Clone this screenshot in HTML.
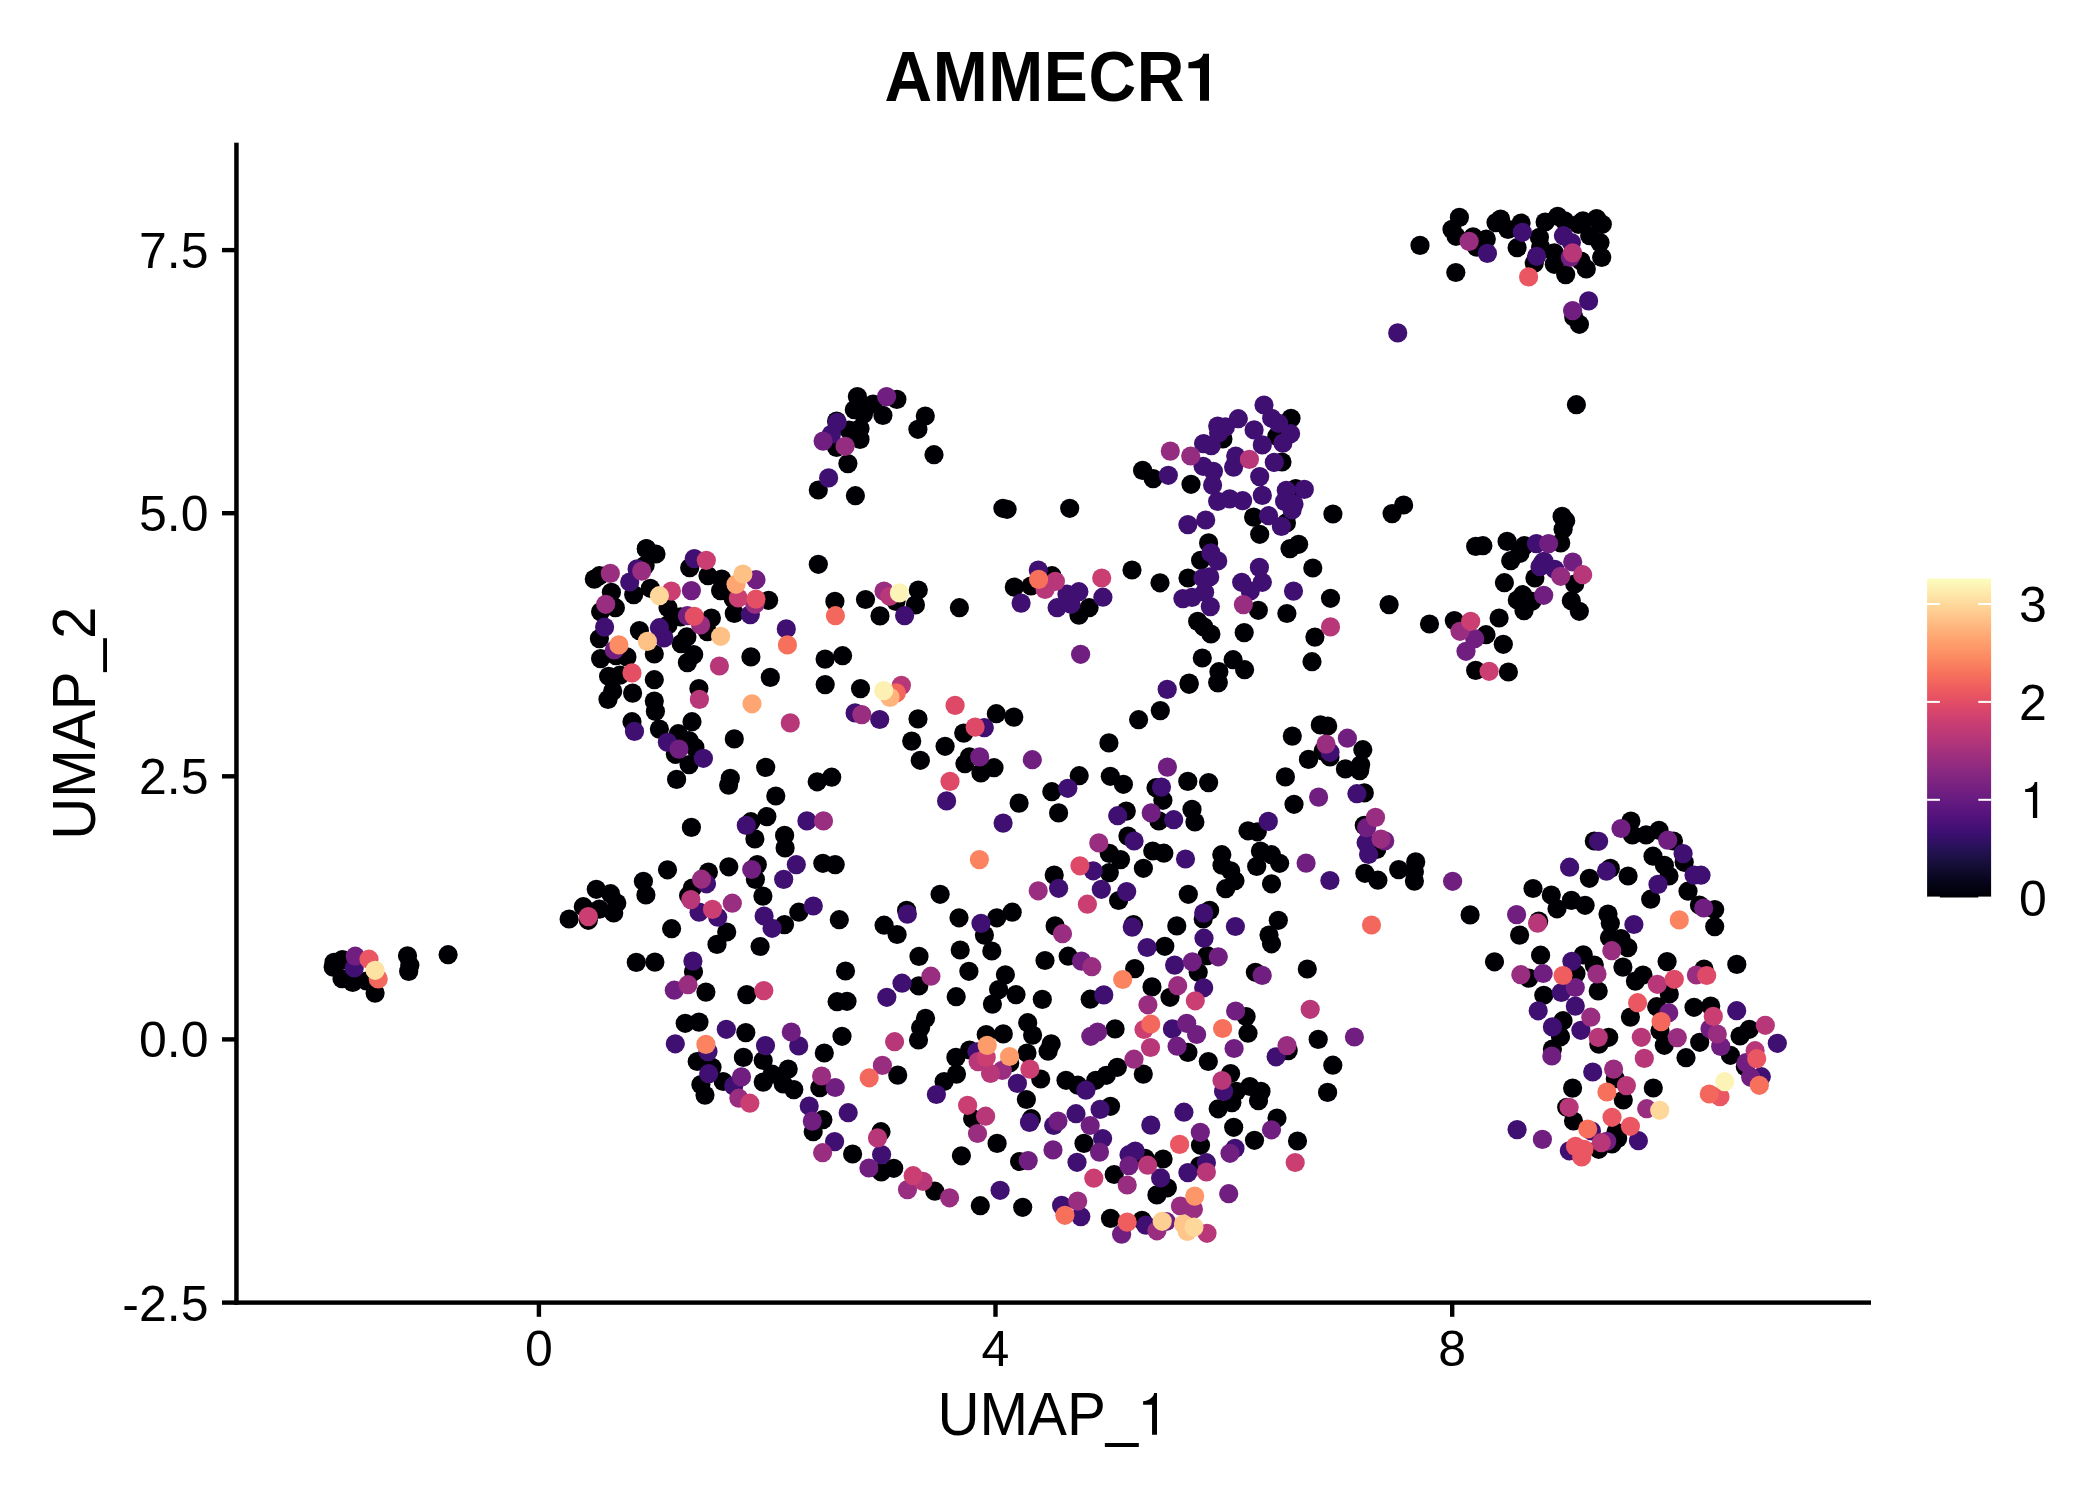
<!DOCTYPE html><html><head><meta charset="utf-8"><style>html,body{margin:0;padding:0;background:#fff;overflow:hidden}svg{display:block}</style></head><body><svg width="2100" height="1500" viewBox="0 0 2100 1500">
<rect width="2100" height="1500" fill="#ffffff"/>
<defs><linearGradient id="g" x1="0" y1="1" x2="0" y2="0"><stop offset="0.000" stop-color="#000004"/><stop offset="0.050" stop-color="#06051a"/><stop offset="0.100" stop-color="#140e36"/><stop offset="0.150" stop-color="#251255"/><stop offset="0.200" stop-color="#3b0f70"/><stop offset="0.250" stop-color="#51127c"/><stop offset="0.300" stop-color="#641a80"/><stop offset="0.350" stop-color="#782281"/><stop offset="0.400" stop-color="#8c2981"/><stop offset="0.450" stop-color="#a1307e"/><stop offset="0.500" stop-color="#b73779"/><stop offset="0.550" stop-color="#ca3e72"/><stop offset="0.600" stop-color="#de4968"/><stop offset="0.650" stop-color="#ed5a5f"/><stop offset="0.700" stop-color="#f7705c"/><stop offset="0.750" stop-color="#fc8961"/><stop offset="0.800" stop-color="#fe9f6d"/><stop offset="0.850" stop-color="#feb77e"/><stop offset="0.900" stop-color="#fecf92"/><stop offset="0.950" stop-color="#fde7a9"/><stop offset="1.000" stop-color="#fcfdbf"/></linearGradient></defs>
<g><circle cx="1420.0" cy="245.4" r="9.6" fill="#000004"/><circle cx="1459.4" cy="217.4" r="9.6" fill="#000004"/><circle cx="1452.0" cy="229.4" r="9.6" fill="#000004"/><circle cx="1456.0" cy="236.3" r="9.6" fill="#000004"/><circle cx="1473.1" cy="236.9" r="9.6" fill="#000004"/><circle cx="1486.3" cy="239.1" r="9.6" fill="#000004"/><circle cx="1476.6" cy="247.1" r="9.6" fill="#000004"/><circle cx="1496.0" cy="222.6" r="9.6" fill="#000004"/><circle cx="1500.6" cy="219.1" r="9.6" fill="#000004"/><circle cx="1508.0" cy="229.4" r="9.6" fill="#000004"/><circle cx="1521.1" cy="223.1" r="9.6" fill="#000004"/><circle cx="1517.1" cy="247.7" r="9.6" fill="#000004"/><circle cx="1539.4" cy="237.4" r="9.6" fill="#000004"/><circle cx="1540.6" cy="247.1" r="9.6" fill="#000004"/><circle cx="1545.1" cy="222.0" r="9.6" fill="#000004"/><circle cx="1534.3" cy="263.1" r="9.6" fill="#000004"/><circle cx="1557.7" cy="216.3" r="9.6" fill="#000004"/><circle cx="1564.6" cy="220.9" r="9.6" fill="#000004"/><circle cx="1554.3" cy="252.9" r="9.6" fill="#000004"/><circle cx="1554.3" cy="264.3" r="9.6" fill="#000004"/><circle cx="1565.7" cy="274.6" r="9.6" fill="#000004"/><circle cx="1586.3" cy="268.9" r="9.6" fill="#000004"/><circle cx="1582.9" cy="220.9" r="9.6" fill="#000004"/><circle cx="1596.6" cy="218.6" r="9.6" fill="#000004"/><circle cx="1602.3" cy="224.3" r="9.6" fill="#000004"/><circle cx="1589.7" cy="235.7" r="9.6" fill="#000004"/><circle cx="1600.0" cy="242.6" r="9.6" fill="#000004"/><circle cx="1601.7" cy="257.4" r="9.6" fill="#000004"/><circle cx="1578.3" cy="224.3" r="9.6" fill="#000004"/><circle cx="1573.7" cy="316.9" r="9.6" fill="#000004"/><circle cx="1579.4" cy="324.3" r="9.6" fill="#000004"/><circle cx="1455.8" cy="272.5" r="9.6" fill="#000004"/><circle cx="857.4" cy="396.6" r="9.6" fill="#000004"/><circle cx="873.1" cy="404.0" r="9.6" fill="#000004"/><circle cx="896.9" cy="399.4" r="9.6" fill="#000004"/><circle cx="854.3" cy="409.7" r="9.6" fill="#000004"/><circle cx="863.4" cy="414.3" r="9.6" fill="#000004"/><circle cx="882.9" cy="415.4" r="9.6" fill="#000004"/><circle cx="836.6" cy="421.1" r="9.6" fill="#000004"/><circle cx="860.0" cy="428.6" r="9.6" fill="#000004"/><circle cx="860.0" cy="439.4" r="9.6" fill="#000004"/><circle cx="836.6" cy="447.4" r="9.6" fill="#000004"/><circle cx="847.9" cy="463.6" r="9.6" fill="#000004"/><circle cx="818.3" cy="490.0" r="9.6" fill="#000004"/><circle cx="855.4" cy="495.7" r="9.6" fill="#000004"/><circle cx="646.4" cy="548.6" r="9.6" fill="#000004"/><circle cx="925.3" cy="416.0" r="9.6" fill="#000004"/><circle cx="917.9" cy="429.3" r="9.6" fill="#000004"/><circle cx="934.0" cy="454.7" r="9.6" fill="#000004"/><circle cx="1002.9" cy="508.3" r="9.6" fill="#000004"/><circle cx="1007.1" cy="509.3" r="9.6" fill="#000004"/><circle cx="1069.7" cy="508.3" r="9.6" fill="#000004"/><circle cx="1142.6" cy="470.4" r="9.6" fill="#000004"/><circle cx="1153.1" cy="478.6" r="9.6" fill="#000004"/><circle cx="1191.0" cy="484.3" r="9.6" fill="#000004"/><circle cx="1222.9" cy="438.9" r="9.6" fill="#000004"/><circle cx="1295.7" cy="488.6" r="9.6" fill="#000004"/><circle cx="1282.0" cy="462.0" r="9.6" fill="#000004"/><circle cx="1291.0" cy="418.3" r="9.6" fill="#000004"/><circle cx="1276.9" cy="436.3" r="9.6" fill="#000004"/><circle cx="1253.6" cy="517.1" r="9.6" fill="#000004"/><circle cx="1286.4" cy="522.9" r="9.6" fill="#000004"/><circle cx="1259.7" cy="534.3" r="9.6" fill="#000004"/><circle cx="1298.6" cy="544.3" r="9.6" fill="#000004"/><circle cx="1290.0" cy="548.6" r="9.6" fill="#000004"/><circle cx="1208.6" cy="542.9" r="9.6" fill="#000004"/><circle cx="1332.9" cy="514.0" r="9.6" fill="#000004"/><circle cx="1392.1" cy="513.6" r="9.6" fill="#000004"/><circle cx="1403.6" cy="505.0" r="9.6" fill="#000004"/><circle cx="1475.7" cy="546.4" r="9.6" fill="#000004"/><circle cx="1482.9" cy="545.7" r="9.6" fill="#000004"/><circle cx="1507.1" cy="541.4" r="9.6" fill="#000004"/><circle cx="1576.4" cy="404.7" r="9.6" fill="#000004"/><circle cx="1562.1" cy="516.4" r="9.6" fill="#000004"/><circle cx="1565.7" cy="520.7" r="9.6" fill="#000004"/><circle cx="1563.1" cy="529.3" r="9.6" fill="#000004"/><circle cx="1560.7" cy="542.9" r="9.6" fill="#000004"/><circle cx="1524.3" cy="545.7" r="9.6" fill="#000004"/><circle cx="646.3" cy="548.9" r="9.6" fill="#000004"/><circle cx="656.0" cy="554.0" r="9.6" fill="#000004"/><circle cx="645.1" cy="565.4" r="9.6" fill="#000004"/><circle cx="633.7" cy="594.6" r="9.6" fill="#000004"/><circle cx="650.3" cy="588.3" r="9.6" fill="#000004"/><circle cx="594.3" cy="579.1" r="9.6" fill="#000004"/><circle cx="599.4" cy="575.7" r="9.6" fill="#000004"/><circle cx="611.4" cy="592.3" r="9.6" fill="#000004"/><circle cx="615.4" cy="607.7" r="9.6" fill="#000004"/><circle cx="600.6" cy="611.7" r="9.6" fill="#000004"/><circle cx="599.4" cy="638.6" r="9.6" fill="#000004"/><circle cx="600.6" cy="658.6" r="9.6" fill="#000004"/><circle cx="626.9" cy="656.9" r="9.6" fill="#000004"/><circle cx="616.0" cy="655.7" r="9.6" fill="#000004"/><circle cx="608.6" cy="676.3" r="9.6" fill="#000004"/><circle cx="620.0" cy="675.1" r="9.6" fill="#000004"/><circle cx="654.3" cy="679.7" r="9.6" fill="#000004"/><circle cx="654.3" cy="654.0" r="9.6" fill="#000004"/><circle cx="639.4" cy="630.6" r="9.6" fill="#000004"/><circle cx="668.0" cy="624.9" r="9.6" fill="#000004"/><circle cx="686.9" cy="636.9" r="9.6" fill="#000004"/><circle cx="681.1" cy="643.7" r="9.6" fill="#000004"/><circle cx="693.7" cy="654.6" r="9.6" fill="#000004"/><circle cx="687.4" cy="662.6" r="9.6" fill="#000004"/><circle cx="750.9" cy="656.9" r="9.6" fill="#000004"/><circle cx="770.3" cy="677.4" r="9.6" fill="#000004"/><circle cx="707.4" cy="631.7" r="9.6" fill="#000004"/><circle cx="711.4" cy="618.0" r="9.6" fill="#000004"/><circle cx="680.6" cy="616.9" r="9.6" fill="#000004"/><circle cx="668.0" cy="607.7" r="9.6" fill="#000004"/><circle cx="689.7" cy="567.7" r="9.6" fill="#000004"/><circle cx="708.0" cy="575.7" r="9.6" fill="#000004"/><circle cx="721.7" cy="579.1" r="9.6" fill="#000004"/><circle cx="720.6" cy="590.6" r="9.6" fill="#000004"/><circle cx="734.3" cy="613.4" r="9.6" fill="#000004"/><circle cx="768.6" cy="600.3" r="9.6" fill="#000004"/><circle cx="733.1" cy="598.6" r="9.6" fill="#000004"/><circle cx="818.3" cy="564.3" r="9.6" fill="#000004"/><circle cx="834.9" cy="601.4" r="9.6" fill="#000004"/><circle cx="865.5" cy="599.5" r="9.6" fill="#000004"/><circle cx="896.0" cy="601.4" r="9.6" fill="#000004"/><circle cx="918.3" cy="590.0" r="9.6" fill="#000004"/><circle cx="915.4" cy="604.9" r="9.6" fill="#000004"/><circle cx="880.0" cy="615.9" r="9.6" fill="#000004"/><circle cx="959.4" cy="607.7" r="9.6" fill="#000004"/><circle cx="1014.3" cy="587.1" r="9.6" fill="#000004"/><circle cx="825.1" cy="659.1" r="9.6" fill="#000004"/><circle cx="842.6" cy="655.7" r="9.6" fill="#000004"/><circle cx="1030.9" cy="586.0" r="9.6" fill="#000004"/><circle cx="1052.0" cy="575.7" r="9.6" fill="#000004"/><circle cx="1089.1" cy="607.7" r="9.6" fill="#000004"/><circle cx="1078.9" cy="615.1" r="9.6" fill="#000004"/><circle cx="1132.0" cy="570.0" r="9.6" fill="#000004"/><circle cx="1160.0" cy="582.8" r="9.6" fill="#000004"/><circle cx="1200.6" cy="560.3" r="9.6" fill="#000004"/><circle cx="1188.0" cy="578.0" r="9.6" fill="#000004"/><circle cx="1197.7" cy="621.4" r="9.6" fill="#000004"/><circle cx="1210.9" cy="634.0" r="9.6" fill="#000004"/><circle cx="1202.3" cy="658.0" r="9.6" fill="#000004"/><circle cx="1233.1" cy="659.7" r="9.6" fill="#000004"/><circle cx="1218.9" cy="671.7" r="9.6" fill="#000004"/><circle cx="1217.7" cy="682.6" r="9.6" fill="#000004"/><circle cx="1189.1" cy="683.1" r="9.6" fill="#000004"/><circle cx="1258.3" cy="610.3" r="9.6" fill="#000004"/><circle cx="1312.8" cy="568.0" r="9.6" fill="#000004"/><circle cx="1286.9" cy="613.5" r="9.6" fill="#000004"/><circle cx="1330.5" cy="598.3" r="9.6" fill="#000004"/><circle cx="1314.9" cy="637.1" r="9.6" fill="#000004"/><circle cx="1312.0" cy="661.7" r="9.6" fill="#000004"/><circle cx="1244.2" cy="632.6" r="9.6" fill="#000004"/><circle cx="1244.6" cy="669.7" r="9.6" fill="#000004"/><circle cx="1389.1" cy="604.6" r="9.6" fill="#000004"/><circle cx="1429.5" cy="624.0" r="9.6" fill="#000004"/><circle cx="1454.3" cy="620.6" r="9.6" fill="#000004"/><circle cx="1510.7" cy="560.7" r="9.6" fill="#000004"/><circle cx="1520.0" cy="553.3" r="9.6" fill="#000004"/><circle cx="1542.7" cy="562.7" r="9.6" fill="#000004"/><circle cx="1574.7" cy="584.0" r="9.6" fill="#000004"/><circle cx="1534.9" cy="578.0" r="9.6" fill="#000004"/><circle cx="1504.4" cy="582.7" r="9.6" fill="#000004"/><circle cx="1522.7" cy="594.7" r="9.6" fill="#000004"/><circle cx="1517.3" cy="600.0" r="9.6" fill="#000004"/><circle cx="1532.0" cy="601.3" r="9.6" fill="#000004"/><circle cx="1524.0" cy="610.7" r="9.6" fill="#000004"/><circle cx="1571.3" cy="600.7" r="9.6" fill="#000004"/><circle cx="1579.3" cy="611.3" r="9.6" fill="#000004"/><circle cx="1499.1" cy="618.0" r="9.6" fill="#000004"/><circle cx="1486.0" cy="634.7" r="9.6" fill="#000004"/><circle cx="1503.3" cy="644.3" r="9.6" fill="#000004"/><circle cx="1475.7" cy="670.4" r="9.6" fill="#000004"/><circle cx="1508.4" cy="672.0" r="9.6" fill="#000004"/><circle cx="608.0" cy="699.4" r="9.6" fill="#000004"/><circle cx="632.6" cy="693.1" r="9.6" fill="#000004"/><circle cx="654.3" cy="701.1" r="9.6" fill="#000004"/><circle cx="655.4" cy="711.4" r="9.6" fill="#000004"/><circle cx="632.0" cy="721.7" r="9.6" fill="#000004"/><circle cx="659.4" cy="729.1" r="9.6" fill="#000004"/><circle cx="698.9" cy="688.6" r="9.6" fill="#000004"/><circle cx="692.0" cy="721.7" r="9.6" fill="#000004"/><circle cx="678.3" cy="733.7" r="9.6" fill="#000004"/><circle cx="689.1" cy="740.6" r="9.6" fill="#000004"/><circle cx="694.9" cy="747.4" r="9.6" fill="#000004"/><circle cx="675.4" cy="754.3" r="9.6" fill="#000004"/><circle cx="689.1" cy="764.6" r="9.6" fill="#000004"/><circle cx="676.6" cy="779.4" r="9.6" fill="#000004"/><circle cx="734.3" cy="738.9" r="9.6" fill="#000004"/><circle cx="730.3" cy="778.3" r="9.6" fill="#000004"/><circle cx="728.6" cy="785.1" r="9.6" fill="#000004"/><circle cx="765.7" cy="767.4" r="9.6" fill="#000004"/><circle cx="775.8" cy="796.0" r="9.6" fill="#000004"/><circle cx="766.9" cy="816.6" r="9.6" fill="#000004"/><circle cx="750.9" cy="821.7" r="9.6" fill="#000004"/><circle cx="784.6" cy="835.4" r="9.6" fill="#000004"/><circle cx="754.9" cy="838.9" r="9.6" fill="#000004"/><circle cx="691.4" cy="827.4" r="9.6" fill="#000004"/><circle cx="825.2" cy="684.6" r="9.6" fill="#000004"/><circle cx="860.5" cy="688.6" r="9.6" fill="#000004"/><circle cx="918.0" cy="718.9" r="9.6" fill="#000004"/><circle cx="911.7" cy="741.1" r="9.6" fill="#000004"/><circle cx="920.3" cy="760.3" r="9.6" fill="#000004"/><circle cx="945.1" cy="746.3" r="9.6" fill="#000004"/><circle cx="963.7" cy="733.1" r="9.6" fill="#000004"/><circle cx="996.3" cy="713.7" r="9.6" fill="#000004"/><circle cx="1013.8" cy="717.1" r="9.6" fill="#000004"/><circle cx="969.4" cy="756.9" r="9.6" fill="#000004"/><circle cx="964.9" cy="763.7" r="9.6" fill="#000004"/><circle cx="980.9" cy="772.9" r="9.6" fill="#000004"/><circle cx="994.0" cy="767.7" r="9.6" fill="#000004"/><circle cx="1019.1" cy="803.1" r="9.6" fill="#000004"/><circle cx="817.2" cy="781.8" r="9.6" fill="#000004"/><circle cx="831.7" cy="777.2" r="9.6" fill="#000004"/><circle cx="1218.3" cy="682.6" r="9.6" fill="#000004"/><circle cx="1189.1" cy="684.3" r="9.6" fill="#000004"/><circle cx="1160.3" cy="710.6" r="9.6" fill="#000004"/><circle cx="1138.6" cy="719.7" r="9.6" fill="#000004"/><circle cx="1108.9" cy="742.9" r="9.6" fill="#000004"/><circle cx="1079.2" cy="775.7" r="9.6" fill="#000004"/><circle cx="1051.8" cy="791.7" r="9.6" fill="#000004"/><circle cx="1058.6" cy="812.9" r="9.6" fill="#000004"/><circle cx="1110.3" cy="776.3" r="9.6" fill="#000004"/><circle cx="1123.4" cy="784.3" r="9.6" fill="#000004"/><circle cx="1156.0" cy="787.7" r="9.6" fill="#000004"/><circle cx="1162.9" cy="800.3" r="9.6" fill="#000004"/><circle cx="1187.8" cy="781.4" r="9.6" fill="#000004"/><circle cx="1208.6" cy="782.6" r="9.6" fill="#000004"/><circle cx="1126.3" cy="811.1" r="9.6" fill="#000004"/><circle cx="1158.9" cy="820.9" r="9.6" fill="#000004"/><circle cx="1192.0" cy="809.4" r="9.6" fill="#000004"/><circle cx="1194.9" cy="822.0" r="9.6" fill="#000004"/><circle cx="1320.3" cy="724.9" r="9.6" fill="#000004"/><circle cx="1327.7" cy="726.0" r="9.6" fill="#000004"/><circle cx="1292.3" cy="736.1" r="9.6" fill="#000004"/><circle cx="1323.1" cy="751.1" r="9.6" fill="#000004"/><circle cx="1330.0" cy="756.9" r="9.6" fill="#000004"/><circle cx="1308.5" cy="759.4" r="9.6" fill="#000004"/><circle cx="1362.8" cy="749.7" r="9.6" fill="#000004"/><circle cx="1360.6" cy="764.9" r="9.6" fill="#000004"/><circle cx="1345.4" cy="768.9" r="9.6" fill="#000004"/><circle cx="1359.7" cy="770.6" r="9.6" fill="#000004"/><circle cx="1285.4" cy="776.9" r="9.6" fill="#000004"/><circle cx="1364.3" cy="792.9" r="9.6" fill="#000004"/><circle cx="1294.0" cy="804.3" r="9.6" fill="#000004"/><circle cx="1364.3" cy="825.4" r="9.6" fill="#000004"/><circle cx="1630.9" cy="821.1" r="9.6" fill="#000004"/><circle cx="1632.4" cy="834.9" r="9.6" fill="#000004"/><circle cx="1646.1" cy="834.9" r="9.6" fill="#000004"/><circle cx="1659.0" cy="830.3" r="9.6" fill="#000004"/><circle cx="1673.5" cy="841.0" r="9.6" fill="#000004"/><circle cx="1594.3" cy="841.0" r="9.6" fill="#000004"/><circle cx="1610.3" cy="868.4" r="9.6" fill="#000004"/><circle cx="1589.4" cy="878.3" r="9.6" fill="#000004"/><circle cx="1628.1" cy="876.0" r="9.6" fill="#000004"/><circle cx="1653.0" cy="856.2" r="9.6" fill="#000004"/><circle cx="1664.4" cy="865.3" r="9.6" fill="#000004"/><circle cx="1684.2" cy="862.3" r="9.6" fill="#000004"/><circle cx="1669.0" cy="876.0" r="9.6" fill="#000004"/><circle cx="1688.0" cy="891.2" r="9.6" fill="#000004"/><circle cx="1650.7" cy="899.2" r="9.6" fill="#000004"/><circle cx="1699.4" cy="905.0" r="9.6" fill="#000004"/><circle cx="1714.7" cy="909.5" r="9.6" fill="#000004"/><circle cx="1714.7" cy="926.6" r="9.6" fill="#000004"/><circle cx="1608.0" cy="914.1" r="9.6" fill="#000004"/><circle cx="1610.3" cy="923.2" r="9.6" fill="#000004"/><circle cx="1609.5" cy="937.7" r="9.6" fill="#000004"/><circle cx="1621.0" cy="938.5" r="9.6" fill="#000004"/><circle cx="1627.8" cy="947.6" r="9.6" fill="#000004"/><circle cx="1533.0" cy="888.5" r="9.6" fill="#000004"/><circle cx="1551.3" cy="895.0" r="9.6" fill="#000004"/><circle cx="1557.0" cy="908.8" r="9.6" fill="#000004"/><circle cx="1571.4" cy="900.4" r="9.6" fill="#000004"/><circle cx="1585.1" cy="905.3" r="9.6" fill="#000004"/><circle cx="1538.7" cy="921.0" r="9.6" fill="#000004"/><circle cx="1519.6" cy="935.1" r="9.6" fill="#000004"/><circle cx="1494.5" cy="961.8" r="9.6" fill="#000004"/><circle cx="1540.6" cy="955.2" r="9.6" fill="#000004"/><circle cx="1583.3" cy="954.9" r="9.6" fill="#000004"/><circle cx="1594.3" cy="965.1" r="9.6" fill="#000004"/><circle cx="1528.8" cy="978.1" r="9.6" fill="#000004"/><circle cx="1576.0" cy="973.5" r="9.6" fill="#000004"/><circle cx="1622.9" cy="967.1" r="9.6" fill="#000004"/><circle cx="1643.0" cy="975.0" r="9.6" fill="#000004"/><circle cx="1635.4" cy="981.1" r="9.6" fill="#000004"/><circle cx="1667.1" cy="961.6" r="9.6" fill="#000004"/><circle cx="1704.0" cy="969.0" r="9.6" fill="#000004"/><circle cx="1736.8" cy="964.4" r="9.6" fill="#000004"/><circle cx="334.0" cy="962.3" r="9.6" fill="#000004"/><circle cx="333.2" cy="967.2" r="9.6" fill="#000004"/><circle cx="342.4" cy="959.6" r="9.6" fill="#000004"/><circle cx="342.0" cy="978.7" r="9.6" fill="#000004"/><circle cx="352.7" cy="982.5" r="9.6" fill="#000004"/><circle cx="366.4" cy="981.0" r="9.6" fill="#000004"/><circle cx="375.1" cy="993.1" r="9.6" fill="#000004"/><circle cx="407.5" cy="955.8" r="9.6" fill="#000004"/><circle cx="409.8" cy="965.3" r="9.6" fill="#000004"/><circle cx="408.7" cy="971.4" r="9.6" fill="#000004"/><circle cx="448.1" cy="954.7" r="9.6" fill="#000004"/><circle cx="785.1" cy="847.9" r="9.6" fill="#000004"/><circle cx="757.3" cy="864.6" r="9.6" fill="#000004"/><circle cx="755.4" cy="879.4" r="9.6" fill="#000004"/><circle cx="728.8" cy="866.8" r="9.6" fill="#000004"/><circle cx="708.4" cy="872.0" r="9.6" fill="#000004"/><circle cx="692.3" cy="888.1" r="9.6" fill="#000004"/><circle cx="688.6" cy="895.5" r="9.6" fill="#000004"/><circle cx="762.9" cy="896.1" r="9.6" fill="#000004"/><circle cx="784.5" cy="924.6" r="9.6" fill="#000004"/><circle cx="798.8" cy="912.2" r="9.6" fill="#000004"/><circle cx="726.7" cy="932.0" r="9.6" fill="#000004"/><circle cx="717.0" cy="944.4" r="9.6" fill="#000004"/><circle cx="760.1" cy="946.5" r="9.6" fill="#000004"/><circle cx="671.6" cy="928.7" r="9.6" fill="#000004"/><circle cx="667.5" cy="869.8" r="9.6" fill="#000004"/><circle cx="643.4" cy="881.3" r="9.6" fill="#000004"/><circle cx="645.9" cy="894.9" r="9.6" fill="#000004"/><circle cx="596.3" cy="889.3" r="9.6" fill="#000004"/><circle cx="610.6" cy="893.7" r="9.6" fill="#000004"/><circle cx="616.8" cy="903.0" r="9.6" fill="#000004"/><circle cx="583.3" cy="906.7" r="9.6" fill="#000004"/><circle cx="599.4" cy="909.1" r="9.6" fill="#000004"/><circle cx="613.7" cy="912.9" r="9.6" fill="#000004"/><circle cx="569.1" cy="919.0" r="9.6" fill="#000004"/><circle cx="588.3" cy="920.3" r="9.6" fill="#000004"/><circle cx="636.3" cy="962.4" r="9.6" fill="#000004"/><circle cx="654.9" cy="962.1" r="9.6" fill="#000004"/><circle cx="693.5" cy="971.7" r="9.6" fill="#000004"/><circle cx="705.9" cy="992.1" r="9.6" fill="#000004"/><circle cx="746.8" cy="994.6" r="9.6" fill="#000004"/><circle cx="822.8" cy="863.3" r="9.6" fill="#000004"/><circle cx="835.2" cy="864.6" r="9.6" fill="#000004"/><circle cx="839.3" cy="919.7" r="9.6" fill="#000004"/><circle cx="940.1" cy="894.3" r="9.6" fill="#000004"/><circle cx="906.6" cy="910.4" r="9.6" fill="#000004"/><circle cx="884.1" cy="925.2" r="9.6" fill="#000004"/><circle cx="897.1" cy="934.5" r="9.6" fill="#000004"/><circle cx="959.0" cy="917.8" r="9.6" fill="#000004"/><circle cx="996.8" cy="917.8" r="9.6" fill="#000004"/><circle cx="1012.2" cy="912.2" r="9.6" fill="#000004"/><circle cx="984.4" cy="935.1" r="9.6" fill="#000004"/><circle cx="960.2" cy="950.0" r="9.6" fill="#000004"/><circle cx="991.8" cy="951.0" r="9.6" fill="#000004"/><circle cx="919.0" cy="956.4" r="9.6" fill="#000004"/><circle cx="1045.0" cy="960.5" r="9.6" fill="#000004"/><circle cx="845.5" cy="971.0" r="9.6" fill="#000004"/><circle cx="968.9" cy="971.3" r="9.6" fill="#000004"/><circle cx="1005.4" cy="974.8" r="9.6" fill="#000004"/><circle cx="918.8" cy="985.9" r="9.6" fill="#000004"/><circle cx="998.6" cy="989.6" r="9.6" fill="#000004"/><circle cx="1016.0" cy="994.6" r="9.6" fill="#000004"/><circle cx="1257.3" cy="831.8" r="9.6" fill="#000004"/><circle cx="1127.9" cy="836.1" r="9.6" fill="#000004"/><circle cx="1109.3" cy="853.4" r="9.6" fill="#000004"/><circle cx="1120.5" cy="859.6" r="9.6" fill="#000004"/><circle cx="1109.3" cy="872.6" r="9.6" fill="#000004"/><circle cx="1054.2" cy="875.1" r="9.6" fill="#000004"/><circle cx="1118.6" cy="900.5" r="9.6" fill="#000004"/><circle cx="1152.7" cy="851.0" r="9.6" fill="#000004"/><circle cx="1163.8" cy="853.2" r="9.6" fill="#000004"/><circle cx="1143.4" cy="868.3" r="9.6" fill="#000004"/><circle cx="1221.8" cy="854.7" r="9.6" fill="#000004"/><circle cx="1222.0" cy="865.2" r="9.6" fill="#000004"/><circle cx="1230.7" cy="870.8" r="9.6" fill="#000004"/><circle cx="1235.0" cy="880.7" r="9.6" fill="#000004"/><circle cx="1225.7" cy="888.7" r="9.6" fill="#000004"/><circle cx="1260.4" cy="851.0" r="9.6" fill="#000004"/><circle cx="1271.5" cy="854.7" r="9.6" fill="#000004"/><circle cx="1279.6" cy="863.3" r="9.6" fill="#000004"/><circle cx="1256.7" cy="866.4" r="9.6" fill="#000004"/><circle cx="1271.5" cy="883.8" r="9.6" fill="#000004"/><circle cx="1188.3" cy="894.3" r="9.6" fill="#000004"/><circle cx="1209.6" cy="910.4" r="9.6" fill="#000004"/><circle cx="1203.2" cy="919.0" r="9.6" fill="#000004"/><circle cx="1176.8" cy="925.9" r="9.6" fill="#000004"/><circle cx="1278.3" cy="920.3" r="9.6" fill="#000004"/><circle cx="1269.0" cy="935.1" r="9.6" fill="#000004"/><circle cx="1271.5" cy="943.8" r="9.6" fill="#000004"/><circle cx="1055.1" cy="925.9" r="9.6" fill="#000004"/><circle cx="1133.5" cy="924.6" r="9.6" fill="#000004"/><circle cx="1164.8" cy="946.3" r="9.6" fill="#000004"/><circle cx="1068.2" cy="956.2" r="9.6" fill="#000004"/><circle cx="1134.7" cy="968.6" r="9.6" fill="#000004"/><circle cx="1207.1" cy="955.6" r="9.6" fill="#000004"/><circle cx="1198.2" cy="972.3" r="9.6" fill="#000004"/><circle cx="1152.0" cy="986.9" r="9.6" fill="#000004"/><circle cx="1255.4" cy="972.3" r="9.6" fill="#000004"/><circle cx="1376.7" cy="849.5" r="9.6" fill="#000004"/><circle cx="1364.9" cy="873.3" r="9.6" fill="#000004"/><circle cx="1377.9" cy="880.2" r="9.6" fill="#000004"/><circle cx="1398.7" cy="869.6" r="9.6" fill="#000004"/><circle cx="1415.7" cy="861.9" r="9.6" fill="#000004"/><circle cx="1414.4" cy="871.8" r="9.6" fill="#000004"/><circle cx="1414.4" cy="881.1" r="9.6" fill="#000004"/><circle cx="1470.1" cy="914.9" r="9.6" fill="#000004"/><circle cx="1307.3" cy="969.0" r="9.6" fill="#000004"/><circle cx="837.1" cy="1001.7" r="9.6" fill="#000004"/><circle cx="847.0" cy="1001.3" r="9.6" fill="#000004"/><circle cx="685.2" cy="1023.3" r="9.6" fill="#000004"/><circle cx="699.0" cy="1022.1" r="9.6" fill="#000004"/><circle cx="745.8" cy="1032.6" r="9.6" fill="#000004"/><circle cx="697.2" cy="1061.5" r="9.6" fill="#000004"/><circle cx="712.0" cy="1067.3" r="9.6" fill="#000004"/><circle cx="700.9" cy="1084.6" r="9.6" fill="#000004"/><circle cx="705.0" cy="1095.1" r="9.6" fill="#000004"/><circle cx="723.2" cy="1081.5" r="9.6" fill="#000004"/><circle cx="743.4" cy="1057.4" r="9.6" fill="#000004"/><circle cx="763.2" cy="1060.5" r="9.6" fill="#000004"/><circle cx="763.2" cy="1082.1" r="9.6" fill="#000004"/><circle cx="772.1" cy="1074.1" r="9.6" fill="#000004"/><circle cx="788.2" cy="1069.1" r="9.6" fill="#000004"/><circle cx="783.2" cy="1084.0" r="9.6" fill="#000004"/><circle cx="793.8" cy="1089.6" r="9.6" fill="#000004"/><circle cx="824.3" cy="1053.0" r="9.6" fill="#000004"/><circle cx="842.0" cy="1036.3" r="9.6" fill="#000004"/><circle cx="819.8" cy="1087.7" r="9.6" fill="#000004"/><circle cx="822.9" cy="1119.7" r="9.6" fill="#000004"/><circle cx="813.2" cy="1131.7" r="9.6" fill="#000004"/><circle cx="852.6" cy="1154.0" r="9.6" fill="#000004"/><circle cx="956.2" cy="996.7" r="9.6" fill="#000004"/><circle cx="992.4" cy="1004.1" r="9.6" fill="#000004"/><circle cx="1042.3" cy="999.4" r="9.6" fill="#000004"/><circle cx="1090.2" cy="999.2" r="9.6" fill="#000004"/><circle cx="925.5" cy="1018.4" r="9.6" fill="#000004"/><circle cx="920.6" cy="1027.7" r="9.6" fill="#000004"/><circle cx="918.5" cy="1040.0" r="9.6" fill="#000004"/><circle cx="897.7" cy="1075.1" r="9.6" fill="#000004"/><circle cx="1027.7" cy="1022.7" r="9.6" fill="#000004"/><circle cx="1032.6" cy="1035.1" r="9.6" fill="#000004"/><circle cx="1051.2" cy="1043.8" r="9.6" fill="#000004"/><circle cx="1048.1" cy="1051.2" r="9.6" fill="#000004"/><circle cx="986.2" cy="1034.5" r="9.6" fill="#000004"/><circle cx="1003.3" cy="1033.9" r="9.6" fill="#000004"/><circle cx="969.5" cy="1050.0" r="9.6" fill="#000004"/><circle cx="955.9" cy="1057.4" r="9.6" fill="#000004"/><circle cx="1009.7" cy="1063.0" r="9.6" fill="#000004"/><circle cx="1027.0" cy="1053.0" r="9.6" fill="#000004"/><circle cx="1040.7" cy="1079.0" r="9.6" fill="#000004"/><circle cx="1026.4" cy="1099.5" r="9.6" fill="#000004"/><circle cx="944.1" cy="1081.5" r="9.6" fill="#000004"/><circle cx="956.5" cy="1074.1" r="9.6" fill="#000004"/><circle cx="972.6" cy="1118.7" r="9.6" fill="#000004"/><circle cx="997.1" cy="1143.4" r="9.6" fill="#000004"/><circle cx="961.4" cy="1155.8" r="9.6" fill="#000004"/><circle cx="881.0" cy="1131.7" r="9.6" fill="#000004"/><circle cx="1031.4" cy="1118.7" r="9.6" fill="#000004"/><circle cx="1084.0" cy="1143.4" r="9.6" fill="#000004"/><circle cx="1066.0" cy="1080.3" r="9.6" fill="#000004"/><circle cx="1077.8" cy="1085.2" r="9.6" fill="#000004"/><circle cx="1095.8" cy="1080.3" r="9.6" fill="#000004"/><circle cx="1106.3" cy="1075.3" r="9.6" fill="#000004"/><circle cx="1170.0" cy="997.3" r="9.6" fill="#000004"/><circle cx="1115.1" cy="1028.9" r="9.6" fill="#000004"/><circle cx="1187.9" cy="1052.4" r="9.6" fill="#000004"/><circle cx="1208.3" cy="1061.5" r="9.6" fill="#000004"/><circle cx="1246.1" cy="1016.5" r="9.6" fill="#000004"/><circle cx="1248.0" cy="1033.2" r="9.6" fill="#000004"/><circle cx="1318.2" cy="1039.4" r="9.6" fill="#000004"/><circle cx="1288.2" cy="1050.6" r="9.6" fill="#000004"/><circle cx="1332.8" cy="1065.2" r="9.6" fill="#000004"/><circle cx="1327.6" cy="1092.4" r="9.6" fill="#000004"/><circle cx="1117.3" cy="1067.3" r="9.6" fill="#000004"/><circle cx="1143.3" cy="1074.1" r="9.6" fill="#000004"/><circle cx="1230.6" cy="1073.5" r="9.6" fill="#000004"/><circle cx="1236.2" cy="1091.4" r="9.6" fill="#000004"/><circle cx="1249.8" cy="1086.5" r="9.6" fill="#000004"/><circle cx="1261.0" cy="1091.4" r="9.6" fill="#000004"/><circle cx="1258.5" cy="1100.7" r="9.6" fill="#000004"/><circle cx="1231.9" cy="1102.6" r="9.6" fill="#000004"/><circle cx="1218.2" cy="1108.8" r="9.6" fill="#000004"/><circle cx="1110.5" cy="1106.3" r="9.6" fill="#000004"/><circle cx="1200.5" cy="1145.3" r="9.6" fill="#000004"/><circle cx="1233.7" cy="1127.3" r="9.6" fill="#000004"/><circle cx="1277.0" cy="1118.0" r="9.6" fill="#000004"/><circle cx="1254.5" cy="1140.3" r="9.6" fill="#000004"/><circle cx="1297.5" cy="1141.0" r="9.6" fill="#000004"/><circle cx="1543.8" cy="995.3" r="9.6" fill="#000004"/><circle cx="1598.2" cy="991.0" r="9.6" fill="#000004"/><circle cx="1563.0" cy="1020.7" r="9.6" fill="#000004"/><circle cx="1560.5" cy="1036.8" r="9.6" fill="#000004"/><circle cx="1552.4" cy="1049.1" r="9.6" fill="#000004"/><circle cx="1598.9" cy="1044.2" r="9.6" fill="#000004"/><circle cx="1572.6" cy="1088.1" r="9.6" fill="#000004"/><circle cx="1566.7" cy="1107.3" r="9.6" fill="#000004"/><circle cx="1573.5" cy="1121.0" r="9.6" fill="#000004"/><circle cx="1669.3" cy="994.0" r="9.6" fill="#000004"/><circle cx="1656.7" cy="1006.7" r="9.6" fill="#000004"/><circle cx="1630.4" cy="1017.1" r="9.6" fill="#000004"/><circle cx="1660.0" cy="1030.7" r="9.6" fill="#000004"/><circle cx="1664.3" cy="1045.3" r="9.6" fill="#000004"/><circle cx="1686.0" cy="1057.7" r="9.6" fill="#000004"/><circle cx="1694.0" cy="1007.3" r="9.6" fill="#000004"/><circle cx="1710.7" cy="1006.0" r="9.6" fill="#000004"/><circle cx="1699.7" cy="1042.3" r="9.6" fill="#000004"/><circle cx="1730.4" cy="1055.3" r="9.6" fill="#000004"/><circle cx="1740.0" cy="1036.0" r="9.6" fill="#000004"/><circle cx="1749.3" cy="1029.3" r="9.6" fill="#000004"/><circle cx="1745.3" cy="1066.7" r="9.6" fill="#000004"/><circle cx="1608.7" cy="1037.3" r="9.6" fill="#000004"/><circle cx="1615.3" cy="1078.7" r="9.6" fill="#000004"/><circle cx="1623.3" cy="1100.0" r="9.6" fill="#000004"/><circle cx="1653.3" cy="1088.0" r="9.6" fill="#000004"/><circle cx="1616.0" cy="1132.0" r="9.6" fill="#000004"/><circle cx="1598.7" cy="1149.3" r="9.6" fill="#000004"/><circle cx="1612.0" cy="1144.0" r="9.6" fill="#000004"/><circle cx="881.3" cy="1172.0" r="9.6" fill="#000004"/><circle cx="893.7" cy="1168.3" r="9.6" fill="#000004"/><circle cx="934.8" cy="1191.2" r="9.6" fill="#000004"/><circle cx="980.3" cy="1205.7" r="9.6" fill="#000004"/><circle cx="1022.7" cy="1207.3" r="9.6" fill="#000004"/><circle cx="1019.6" cy="1161.5" r="9.6" fill="#000004"/><circle cx="1114.2" cy="1174.5" r="9.6" fill="#000004"/><circle cx="1145.1" cy="1158.4" r="9.6" fill="#000004"/><circle cx="1163.1" cy="1159.0" r="9.6" fill="#000004"/><circle cx="1167.4" cy="1187.8" r="9.6" fill="#000004"/><circle cx="1156.9" cy="1194.9" r="9.6" fill="#000004"/><circle cx="1199.6" cy="1165.8" r="9.6" fill="#000004"/><circle cx="1110.5" cy="1218.4" r="9.6" fill="#000004"/><circle cx="1142.0" cy="1220.3" r="9.6" fill="#000004"/><circle cx="1617.6" cy="1138.4" r="9.6" fill="#000004"/><circle cx="612.7" cy="691.1" r="9.6" fill="#000004"/><circle cx="1203.8" cy="626.9" r="9.6" fill="#000004"/><circle cx="1248.0" cy="830.8" r="9.6" fill="#000004"/><circle cx="1581.0" cy="261.0" r="9.6" fill="#000004"/><circle cx="849.0" cy="430.0" r="9.6" fill="#000004"/><circle cx="863.0" cy="407.0" r="9.6" fill="#000004"/><circle cx="1487.4" cy="253.4" r="9.6" fill="#3f0f72"/><circle cx="1522.3" cy="232.3" r="9.6" fill="#3f0f72"/><circle cx="1536.6" cy="256.3" r="9.6" fill="#3f0f72"/><circle cx="1563.4" cy="235.7" r="9.6" fill="#3f0f72"/><circle cx="1571.4" cy="242.6" r="9.6" fill="#3f0f72"/><circle cx="1588.6" cy="300.9" r="9.6" fill="#3f0f72"/><circle cx="1397.7" cy="332.9" r="9.6" fill="#3f0f72"/><circle cx="837.1" cy="422.3" r="9.6" fill="#3f0f72"/><circle cx="831.4" cy="434.3" r="9.6" fill="#3f0f72"/><circle cx="828.6" cy="477.9" r="9.6" fill="#3f0f72"/><circle cx="1168.3" cy="475.3" r="9.6" fill="#3f0f72"/><circle cx="1187.9" cy="524.6" r="9.6" fill="#3f0f72"/><circle cx="1205.7" cy="520.0" r="9.6" fill="#3f0f72"/><circle cx="1203.6" cy="443.6" r="9.6" fill="#3f0f72"/><circle cx="1211.3" cy="445.7" r="9.6" fill="#3f0f72"/><circle cx="1217.7" cy="426.0" r="9.6" fill="#3f0f72"/><circle cx="1225.4" cy="426.9" r="9.6" fill="#3f0f72"/><circle cx="1218.6" cy="432.9" r="9.6" fill="#3f0f72"/><circle cx="1238.3" cy="418.7" r="9.6" fill="#3f0f72"/><circle cx="1203.1" cy="466.3" r="9.6" fill="#3f0f72"/><circle cx="1213.4" cy="471.4" r="9.6" fill="#3f0f72"/><circle cx="1212.6" cy="485.1" r="9.6" fill="#3f0f72"/><circle cx="1217.7" cy="501.4" r="9.6" fill="#3f0f72"/><circle cx="1229.7" cy="498.9" r="9.6" fill="#3f0f72"/><circle cx="1242.6" cy="500.6" r="9.6" fill="#3f0f72"/><circle cx="1262.3" cy="495.4" r="9.6" fill="#3f0f72"/><circle cx="1286.3" cy="490.3" r="9.6" fill="#3f0f72"/><circle cx="1304.3" cy="489.4" r="9.6" fill="#3f0f72"/><circle cx="1284.6" cy="501.4" r="9.6" fill="#3f0f72"/><circle cx="1294.0" cy="504.0" r="9.6" fill="#3f0f72"/><circle cx="1259.7" cy="476.6" r="9.6" fill="#3f0f72"/><circle cx="1274.3" cy="462.4" r="9.6" fill="#3f0f72"/><circle cx="1235.7" cy="456.0" r="9.6" fill="#3f0f72"/><circle cx="1233.6" cy="467.1" r="9.6" fill="#3f0f72"/><circle cx="1262.3" cy="444.9" r="9.6" fill="#3f0f72"/><circle cx="1254.1" cy="429.9" r="9.6" fill="#3f0f72"/><circle cx="1264.0" cy="405.0" r="9.6" fill="#3f0f72"/><circle cx="1271.7" cy="418.3" r="9.6" fill="#3f0f72"/><circle cx="1278.6" cy="423.4" r="9.6" fill="#3f0f72"/><circle cx="1290.6" cy="433.7" r="9.6" fill="#3f0f72"/><circle cx="1282.9" cy="443.1" r="9.6" fill="#3f0f72"/><circle cx="1268.6" cy="515.7" r="9.6" fill="#3f0f72"/><circle cx="1281.4" cy="526.4" r="9.6" fill="#3f0f72"/><circle cx="1292.1" cy="510.0" r="9.6" fill="#3f0f72"/><circle cx="1536.4" cy="543.6" r="9.6" fill="#3f0f72"/><circle cx="637.1" cy="568.9" r="9.6" fill="#3f0f72"/><circle cx="629.7" cy="582.0" r="9.6" fill="#3f0f72"/><circle cx="604.6" cy="627.1" r="9.6" fill="#3f0f72"/><circle cx="664.0" cy="638.0" r="9.6" fill="#3f0f72"/><circle cx="659.4" cy="627.7" r="9.6" fill="#3f0f72"/><circle cx="694.3" cy="558.6" r="9.6" fill="#3f0f72"/><circle cx="750.3" cy="614.6" r="9.6" fill="#3f0f72"/><circle cx="904.6" cy="615.7" r="9.6" fill="#3f0f72"/><circle cx="1021.1" cy="603.1" r="9.6" fill="#3f0f72"/><circle cx="786.3" cy="628.9" r="9.6" fill="#3f0f72"/><circle cx="1038.3" cy="570.0" r="9.6" fill="#3f0f72"/><circle cx="1066.9" cy="594.0" r="9.6" fill="#3f0f72"/><circle cx="1078.9" cy="591.7" r="9.6" fill="#3f0f72"/><circle cx="1057.1" cy="607.7" r="9.6" fill="#3f0f72"/><circle cx="1070.9" cy="604.3" r="9.6" fill="#3f0f72"/><circle cx="1102.9" cy="597.2" r="9.6" fill="#3f0f72"/><circle cx="1210.9" cy="552.9" r="9.6" fill="#3f0f72"/><circle cx="1217.7" cy="560.9" r="9.6" fill="#3f0f72"/><circle cx="1202.9" cy="578.0" r="9.6" fill="#3f0f72"/><circle cx="1209.7" cy="576.9" r="9.6" fill="#3f0f72"/><circle cx="1182.9" cy="598.6" r="9.6" fill="#3f0f72"/><circle cx="1192.0" cy="597.4" r="9.6" fill="#3f0f72"/><circle cx="1204.6" cy="592.3" r="9.6" fill="#3f0f72"/><circle cx="1210.3" cy="606.6" r="9.6" fill="#3f0f72"/><circle cx="1259.4" cy="567.4" r="9.6" fill="#3f0f72"/><circle cx="1241.7" cy="582.3" r="9.6" fill="#3f0f72"/><circle cx="1262.3" cy="582.3" r="9.6" fill="#3f0f72"/><circle cx="1250.3" cy="590.9" r="9.6" fill="#3f0f72"/><circle cx="1293.5" cy="591.1" r="9.6" fill="#3f0f72"/><circle cx="1544.0" cy="561.3" r="9.6" fill="#3f0f72"/><circle cx="1540.0" cy="566.7" r="9.6" fill="#3f0f72"/><circle cx="1554.7" cy="569.3" r="9.6" fill="#3f0f72"/><circle cx="634.5" cy="731.4" r="9.6" fill="#3f0f72"/><circle cx="667.4" cy="742.3" r="9.6" fill="#3f0f72"/><circle cx="703.4" cy="758.3" r="9.6" fill="#3f0f72"/><circle cx="746.3" cy="825.4" r="9.6" fill="#3f0f72"/><circle cx="855.1" cy="712.9" r="9.6" fill="#3f0f72"/><circle cx="879.7" cy="719.5" r="9.6" fill="#3f0f72"/><circle cx="984.3" cy="727.7" r="9.6" fill="#3f0f72"/><circle cx="946.6" cy="800.9" r="9.6" fill="#3f0f72"/><circle cx="1003.1" cy="823.1" r="9.6" fill="#3f0f72"/><circle cx="806.9" cy="820.9" r="9.6" fill="#3f0f72"/><circle cx="1167.2" cy="689.4" r="9.6" fill="#3f0f72"/><circle cx="1067.8" cy="788.3" r="9.6" fill="#3f0f72"/><circle cx="1161.5" cy="787.1" r="9.6" fill="#3f0f72"/><circle cx="1117.7" cy="815.7" r="9.6" fill="#3f0f72"/><circle cx="1173.7" cy="819.7" r="9.6" fill="#3f0f72"/><circle cx="1330.0" cy="752.3" r="9.6" fill="#3f0f72"/><circle cx="1356.9" cy="793.7" r="9.6" fill="#3f0f72"/><circle cx="1268.3" cy="821.4" r="9.6" fill="#3f0f72"/><circle cx="1598.6" cy="841.3" r="9.6" fill="#3f0f72"/><circle cx="1569.6" cy="867.2" r="9.6" fill="#3f0f72"/><circle cx="1606.5" cy="871.1" r="9.6" fill="#3f0f72"/><circle cx="1683.1" cy="853.6" r="9.6" fill="#3f0f72"/><circle cx="1658.0" cy="884.4" r="9.6" fill="#3f0f72"/><circle cx="1694.1" cy="875.2" r="9.6" fill="#3f0f72"/><circle cx="1701.0" cy="875.2" r="9.6" fill="#3f0f72"/><circle cx="1633.9" cy="924.5" r="9.6" fill="#3f0f72"/><circle cx="1571.9" cy="961.3" r="9.6" fill="#3f0f72"/><circle cx="354.2" cy="968.0" r="9.6" fill="#3f0f72"/><circle cx="796.3" cy="864.6" r="9.6" fill="#3f0f72"/><circle cx="783.7" cy="879.4" r="9.6" fill="#3f0f72"/><circle cx="706.5" cy="883.8" r="9.6" fill="#3f0f72"/><circle cx="699.1" cy="912.2" r="9.6" fill="#3f0f72"/><circle cx="717.7" cy="917.2" r="9.6" fill="#3f0f72"/><circle cx="764.1" cy="916.0" r="9.6" fill="#3f0f72"/><circle cx="772.1" cy="928.3" r="9.6" fill="#3f0f72"/><circle cx="692.9" cy="961.1" r="9.6" fill="#3f0f72"/><circle cx="813.3" cy="906.0" r="9.6" fill="#3f0f72"/><circle cx="907.4" cy="914.1" r="9.6" fill="#3f0f72"/><circle cx="981.0" cy="923.4" r="9.6" fill="#3f0f72"/><circle cx="902.0" cy="983.2" r="9.6" fill="#3f0f72"/><circle cx="1134.1" cy="841.0" r="9.6" fill="#3f0f72"/><circle cx="1093.2" cy="870.8" r="9.6" fill="#3f0f72"/><circle cx="1058.6" cy="888.3" r="9.6" fill="#3f0f72"/><circle cx="1101.3" cy="889.3" r="9.6" fill="#3f0f72"/><circle cx="1126.7" cy="891.6" r="9.6" fill="#3f0f72"/><circle cx="1185.5" cy="859.0" r="9.6" fill="#3f0f72"/><circle cx="1203.7" cy="913.1" r="9.6" fill="#3f0f72"/><circle cx="1235.4" cy="926.5" r="9.6" fill="#3f0f72"/><circle cx="1204.0" cy="938.2" r="9.6" fill="#3f0f72"/><circle cx="1132.2" cy="927.1" r="9.6" fill="#3f0f72"/><circle cx="1147.1" cy="947.5" r="9.6" fill="#3f0f72"/><circle cx="1174.6" cy="965.1" r="9.6" fill="#3f0f72"/><circle cx="1203.7" cy="987.8" r="9.6" fill="#3f0f72"/><circle cx="1366.1" cy="842.7" r="9.6" fill="#3f0f72"/><circle cx="1368.6" cy="854.5" r="9.6" fill="#3f0f72"/><circle cx="1329.9" cy="880.5" r="9.6" fill="#3f0f72"/><circle cx="726.3" cy="1029.3" r="9.6" fill="#3f0f72"/><circle cx="675.3" cy="1043.8" r="9.6" fill="#3f0f72"/><circle cx="708.0" cy="1051.6" r="9.6" fill="#3f0f72"/><circle cx="708.7" cy="1073.7" r="9.6" fill="#3f0f72"/><circle cx="733.7" cy="1085.9" r="9.6" fill="#3f0f72"/><circle cx="765.5" cy="1045.6" r="9.6" fill="#3f0f72"/><circle cx="798.7" cy="1045.9" r="9.6" fill="#3f0f72"/><circle cx="809.2" cy="1106.0" r="9.6" fill="#3f0f72"/><circle cx="848.2" cy="1112.7" r="9.6" fill="#3f0f72"/><circle cx="834.6" cy="1141.6" r="9.6" fill="#3f0f72"/><circle cx="886.8" cy="997.3" r="9.6" fill="#3f0f72"/><circle cx="1103.8" cy="994.9" r="9.6" fill="#3f0f72"/><circle cx="976.9" cy="1051.8" r="9.6" fill="#3f0f72"/><circle cx="1017.4" cy="1083.4" r="9.6" fill="#3f0f72"/><circle cx="936.4" cy="1094.5" r="9.6" fill="#3f0f72"/><circle cx="881.6" cy="1154.6" r="9.6" fill="#3f0f72"/><circle cx="1029.5" cy="1122.4" r="9.6" fill="#3f0f72"/><circle cx="1053.7" cy="1125.5" r="9.6" fill="#3f0f72"/><circle cx="1076.0" cy="1113.7" r="9.6" fill="#3f0f72"/><circle cx="1100.1" cy="1109.4" r="9.6" fill="#3f0f72"/><circle cx="1102.6" cy="1138.5" r="9.6" fill="#3f0f72"/><circle cx="1085.9" cy="1090.2" r="9.6" fill="#3f0f72"/><circle cx="1172.4" cy="1028.9" r="9.6" fill="#3f0f72"/><circle cx="1276.1" cy="1056.8" r="9.6" fill="#3f0f72"/><circle cx="1223.6" cy="1091.4" r="9.6" fill="#3f0f72"/><circle cx="1183.9" cy="1112.2" r="9.6" fill="#3f0f72"/><circle cx="1150.8" cy="1125.1" r="9.6" fill="#3f0f72"/><circle cx="1235.0" cy="1148.4" r="9.6" fill="#3f0f72"/><circle cx="1538.2" cy="1010.8" r="9.6" fill="#3f0f72"/><circle cx="1575.3" cy="1006.1" r="9.6" fill="#3f0f72"/><circle cx="1552.4" cy="1026.9" r="9.6" fill="#3f0f72"/><circle cx="1580.9" cy="1030.3" r="9.6" fill="#3f0f72"/><circle cx="1592.7" cy="1072.0" r="9.6" fill="#3f0f72"/><circle cx="1591.4" cy="1130.9" r="9.6" fill="#3f0f72"/><circle cx="1517.1" cy="1129.6" r="9.6" fill="#3f0f72"/><circle cx="1736.7" cy="1010.7" r="9.6" fill="#3f0f72"/><circle cx="1777.3" cy="1043.3" r="9.6" fill="#3f0f72"/><circle cx="1761.3" cy="1076.7" r="9.6" fill="#3f0f72"/><circle cx="1638.4" cy="1140.7" r="9.6" fill="#3f0f72"/><circle cx="1000.1" cy="1190.3" r="9.6" fill="#3f0f72"/><circle cx="1077.0" cy="1162.3" r="9.6" fill="#3f0f72"/><circle cx="1129.0" cy="1154.7" r="9.6" fill="#3f0f72"/><circle cx="1135.2" cy="1151.0" r="9.6" fill="#3f0f72"/><circle cx="1160.6" cy="1177.9" r="9.6" fill="#3f0f72"/><circle cx="1206.4" cy="1162.7" r="9.6" fill="#3f0f72"/><circle cx="1187.9" cy="1172.6" r="9.6" fill="#3f0f72"/><circle cx="1061.6" cy="1205.4" r="9.6" fill="#3f0f72"/><circle cx="1080.8" cy="1216.6" r="9.6" fill="#3f0f72"/><circle cx="1145.8" cy="1225.2" r="9.6" fill="#3f0f72"/><circle cx="1569.3" cy="1150.8" r="9.6" fill="#3f0f72"/><circle cx="1561.3" cy="992.5" r="9.6" fill="#3f0f72"/><circle cx="1570.3" cy="257.4" r="9.6" fill="#701f81"/><circle cx="1572.6" cy="310.6" r="9.6" fill="#701f81"/><circle cx="886.6" cy="396.6" r="9.6" fill="#701f81"/><circle cx="823.1" cy="441.1" r="9.6" fill="#701f81"/><circle cx="1548.6" cy="543.6" r="9.6" fill="#701f81"/><circle cx="614.3" cy="650.0" r="9.6" fill="#701f81"/><circle cx="687.4" cy="615.7" r="9.6" fill="#701f81"/><circle cx="691.4" cy="590.6" r="9.6" fill="#701f81"/><circle cx="756.0" cy="579.7" r="9.6" fill="#701f81"/><circle cx="1080.6" cy="654.3" r="9.6" fill="#701f81"/><circle cx="1572.7" cy="562.0" r="9.6" fill="#701f81"/><circle cx="1543.7" cy="595.3" r="9.6" fill="#701f81"/><circle cx="1474.7" cy="638.7" r="9.6" fill="#701f81"/><circle cx="1466.0" cy="651.3" r="9.6" fill="#701f81"/><circle cx="678.9" cy="749.1" r="9.6" fill="#701f81"/><circle cx="979.7" cy="756.9" r="9.6" fill="#701f81"/><circle cx="1032.3" cy="759.7" r="9.6" fill="#701f81"/><circle cx="1167.4" cy="767.1" r="9.6" fill="#701f81"/><circle cx="1151.2" cy="812.9" r="9.6" fill="#701f81"/><circle cx="1347.4" cy="738.2" r="9.6" fill="#701f81"/><circle cx="1318.6" cy="797.1" r="9.6" fill="#701f81"/><circle cx="1366.6" cy="827.7" r="9.6" fill="#701f81"/><circle cx="1621.0" cy="828.5" r="9.6" fill="#701f81"/><circle cx="1667.7" cy="840.2" r="9.6" fill="#701f81"/><circle cx="1703.7" cy="908.0" r="9.6" fill="#701f81"/><circle cx="1516.6" cy="914.6" r="9.6" fill="#701f81"/><circle cx="1543.2" cy="973.5" r="9.6" fill="#701f81"/><circle cx="355.3" cy="956.2" r="9.6" fill="#701f81"/><circle cx="751.7" cy="869.5" r="9.6" fill="#701f81"/><circle cx="674.3" cy="990.2" r="9.6" fill="#701f81"/><circle cx="1081.5" cy="961.1" r="9.6" fill="#701f81"/><circle cx="1192.3" cy="961.8" r="9.6" fill="#701f81"/><circle cx="1218.3" cy="956.8" r="9.6" fill="#701f81"/><circle cx="1262.2" cy="975.4" r="9.6" fill="#701f81"/><circle cx="1384.7" cy="840.9" r="9.6" fill="#701f81"/><circle cx="1306.1" cy="863.1" r="9.6" fill="#701f81"/><circle cx="1452.6" cy="881.3" r="9.6" fill="#701f81"/><circle cx="741.5" cy="1076.9" r="9.6" fill="#701f81"/><circle cx="791.3" cy="1032.0" r="9.6" fill="#701f81"/><circle cx="835.2" cy="1087.5" r="9.6" fill="#701f81"/><circle cx="812.3" cy="1121.1" r="9.6" fill="#701f81"/><circle cx="1058.0" cy="1121.1" r="9.6" fill="#701f81"/><circle cx="1090.2" cy="1125.5" r="9.6" fill="#701f81"/><circle cx="1099.5" cy="1152.1" r="9.6" fill="#701f81"/><circle cx="1053.0" cy="1149.9" r="9.6" fill="#701f81"/><circle cx="1090.8" cy="1036.3" r="9.6" fill="#701f81"/><circle cx="1097.6" cy="1032.0" r="9.6" fill="#701f81"/><circle cx="1186.7" cy="1023.3" r="9.6" fill="#701f81"/><circle cx="1196.6" cy="1034.5" r="9.6" fill="#701f81"/><circle cx="1177.1" cy="1046.2" r="9.6" fill="#701f81"/><circle cx="1235.6" cy="1011.0" r="9.6" fill="#701f81"/><circle cx="1234.1" cy="1048.5" r="9.6" fill="#701f81"/><circle cx="1354.4" cy="1037.0" r="9.6" fill="#701f81"/><circle cx="1200.3" cy="1132.3" r="9.6" fill="#701f81"/><circle cx="1271.5" cy="1129.8" r="9.6" fill="#701f81"/><circle cx="1230.0" cy="1153.3" r="9.6" fill="#701f81"/><circle cx="1551.8" cy="1056.0" r="9.6" fill="#701f81"/><circle cx="1668.7" cy="1012.7" r="9.6" fill="#701f81"/><circle cx="1710.0" cy="1028.7" r="9.6" fill="#701f81"/><circle cx="1720.7" cy="1046.4" r="9.6" fill="#701f81"/><circle cx="1746.0" cy="1062.7" r="9.6" fill="#701f81"/><circle cx="1750.7" cy="1077.3" r="9.6" fill="#701f81"/><circle cx="1606.7" cy="1141.3" r="9.6" fill="#701f81"/><circle cx="868.9" cy="1168.0" r="9.6" fill="#701f81"/><circle cx="1028.2" cy="1160.6" r="9.6" fill="#701f81"/><circle cx="1129.0" cy="1165.6" r="9.6" fill="#701f81"/><circle cx="1228.7" cy="1193.7" r="9.6" fill="#701f81"/><circle cx="1121.6" cy="1234.2" r="9.6" fill="#701f81"/><circle cx="1166.2" cy="1221.5" r="9.6" fill="#701f81"/><circle cx="1542.4" cy="1139.4" r="9.6" fill="#701f81"/><circle cx="1575.3" cy="987.5" r="9.6" fill="#701f81"/><circle cx="845.1" cy="446.3" r="9.6" fill="#942c80"/><circle cx="1170.3" cy="451.1" r="9.6" fill="#942c80"/><circle cx="1190.7" cy="456.0" r="9.6" fill="#942c80"/><circle cx="1560.7" cy="576.3" r="9.6" fill="#942c80"/><circle cx="1469.1" cy="241.4" r="9.6" fill="#992d80"/><circle cx="641.7" cy="571.1" r="9.6" fill="#992d80"/><circle cx="610.3" cy="573.4" r="9.6" fill="#992d80"/><circle cx="605.7" cy="604.3" r="9.6" fill="#992d80"/><circle cx="700.6" cy="624.9" r="9.6" fill="#992d80"/><circle cx="754.9" cy="604.3" r="9.6" fill="#992d80"/><circle cx="884.0" cy="591.1" r="9.6" fill="#992d80"/><circle cx="1243.4" cy="604.6" r="9.6" fill="#992d80"/><circle cx="1460.0" cy="631.3" r="9.6" fill="#992d80"/><circle cx="861.8" cy="714.6" r="9.6" fill="#992d80"/><circle cx="823.5" cy="820.9" r="9.6" fill="#992d80"/><circle cx="1326.0" cy="744.1" r="9.6" fill="#992d80"/><circle cx="1375.5" cy="817.4" r="9.6" fill="#992d80"/><circle cx="1611.8" cy="950.7" r="9.6" fill="#992d80"/><circle cx="1520.8" cy="974.7" r="9.6" fill="#992d80"/><circle cx="1597.0" cy="974.0" r="9.6" fill="#992d80"/><circle cx="1696.4" cy="975.0" r="9.6" fill="#992d80"/><circle cx="701.6" cy="879.2" r="9.6" fill="#992d80"/><circle cx="732.3" cy="903.2" r="9.6" fill="#992d80"/><circle cx="688.0" cy="984.7" r="9.6" fill="#992d80"/><circle cx="1038.2" cy="890.8" r="9.6" fill="#992d80"/><circle cx="930.9" cy="976.2" r="9.6" fill="#992d80"/><circle cx="1098.8" cy="842.9" r="9.6" fill="#992d80"/><circle cx="1062.5" cy="933.7" r="9.6" fill="#992d80"/><circle cx="1091.8" cy="966.7" r="9.6" fill="#992d80"/><circle cx="1177.7" cy="985.7" r="9.6" fill="#992d80"/><circle cx="1381.0" cy="839.0" r="9.6" fill="#992d80"/><circle cx="738.9" cy="1098.2" r="9.6" fill="#992d80"/><circle cx="821.6" cy="1076.0" r="9.6" fill="#992d80"/><circle cx="822.6" cy="1152.7" r="9.6" fill="#992d80"/><circle cx="882.4" cy="1065.4" r="9.6" fill="#992d80"/><circle cx="1002.3" cy="1070.4" r="9.6" fill="#992d80"/><circle cx="977.5" cy="1133.5" r="9.6" fill="#992d80"/><circle cx="1147.9" cy="1004.8" r="9.6" fill="#992d80"/><circle cx="1287.0" cy="1045.6" r="9.6" fill="#992d80"/><circle cx="1134.0" cy="1059.2" r="9.6" fill="#992d80"/><circle cx="1590.8" cy="1017.2" r="9.6" fill="#992d80"/><circle cx="1677.3" cy="1037.6" r="9.6" fill="#992d80"/><circle cx="1717.3" cy="1034.0" r="9.6" fill="#992d80"/><circle cx="1613.6" cy="1069.1" r="9.6" fill="#992d80"/><circle cx="1646.7" cy="1108.7" r="9.6" fill="#992d80"/><circle cx="907.5" cy="1189.6" r="9.6" fill="#992d80"/><circle cx="949.6" cy="1197.8" r="9.6" fill="#992d80"/><circle cx="1127.2" cy="1185.0" r="9.6" fill="#992d80"/><circle cx="1077.7" cy="1201.1" r="9.6" fill="#992d80"/><circle cx="1156.9" cy="1230.8" r="9.6" fill="#992d80"/><circle cx="1180.4" cy="1206.0" r="9.6" fill="#992d80"/><circle cx="1193.4" cy="1209.1" r="9.6" fill="#992d80"/><circle cx="1572.6" cy="252.9" r="9.6" fill="#b73779"/><circle cx="1249.4" cy="459.4" r="9.6" fill="#b73779"/><circle cx="719.4" cy="666.0" r="9.6" fill="#b73779"/><circle cx="889.7" cy="596.3" r="9.6" fill="#b73779"/><circle cx="1055.4" cy="581.4" r="9.6" fill="#b73779"/><circle cx="1045.1" cy="589.4" r="9.6" fill="#b73779"/><circle cx="1330.5" cy="626.9" r="9.6" fill="#b73779"/><circle cx="1582.7" cy="574.7" r="9.6" fill="#b73779"/><circle cx="699.4" cy="699.4" r="9.6" fill="#b73779"/><circle cx="790.3" cy="722.9" r="9.6" fill="#b73779"/><circle cx="901.4" cy="685.4" r="9.6" fill="#b73779"/><circle cx="1537.6" cy="923.2" r="9.6" fill="#b73779"/><circle cx="690.8" cy="899.6" r="9.6" fill="#b73779"/><circle cx="894.6" cy="1041.7" r="9.6" fill="#b73779"/><circle cx="978.1" cy="1061.7" r="9.6" fill="#b73779"/><circle cx="990.5" cy="1073.5" r="9.6" fill="#b73779"/><circle cx="985.6" cy="1116.2" r="9.6" fill="#b73779"/><circle cx="877.5" cy="1137.9" r="9.6" fill="#b73779"/><circle cx="1150.5" cy="1047.5" r="9.6" fill="#b73779"/><circle cx="1310.2" cy="1009.3" r="9.6" fill="#b73779"/><circle cx="1222.0" cy="1080.5" r="9.6" fill="#b73779"/><circle cx="1598.2" cy="1037.4" r="9.6" fill="#b73779"/><circle cx="1569.1" cy="1107.3" r="9.6" fill="#b73779"/><circle cx="1641.3" cy="1037.3" r="9.6" fill="#b73779"/><circle cx="1644.3" cy="1058.4" r="9.6" fill="#b73779"/><circle cx="1765.3" cy="1025.3" r="9.6" fill="#b73779"/><circle cx="1755.1" cy="1050.7" r="9.6" fill="#b73779"/><circle cx="1626.4" cy="1085.6" r="9.6" fill="#b73779"/><circle cx="1601.3" cy="1142.7" r="9.6" fill="#b73779"/><circle cx="923.0" cy="1181.3" r="9.6" fill="#b73779"/><circle cx="1147.6" cy="1165.2" r="9.6" fill="#b73779"/><circle cx="1206.4" cy="1172.0" r="9.6" fill="#b73779"/><circle cx="1207.0" cy="1233.3" r="9.6" fill="#b73779"/><circle cx="1657.3" cy="984.3" r="9.6" fill="#b73779"/><circle cx="671.4" cy="591.1" r="9.6" fill="#ca3e72"/><circle cx="706.3" cy="560.3" r="9.6" fill="#ca3e72"/><circle cx="738.3" cy="598.0" r="9.6" fill="#ca3e72"/><circle cx="1101.7" cy="578.0" r="9.6" fill="#ca3e72"/><circle cx="1470.7" cy="621.3" r="9.6" fill="#ca3e72"/><circle cx="1489.1" cy="671.3" r="9.6" fill="#ca3e72"/><circle cx="712.5" cy="909.4" r="9.6" fill="#ca3e72"/><circle cx="588.3" cy="916.6" r="9.6" fill="#ca3e72"/><circle cx="763.8" cy="990.6" r="9.6" fill="#ca3e72"/><circle cx="1087.4" cy="904.2" r="9.6" fill="#ca3e72"/><circle cx="749.8" cy="1103.2" r="9.6" fill="#ca3e72"/><circle cx="986.2" cy="1057.4" r="9.6" fill="#ca3e72"/><circle cx="1029.9" cy="1069.1" r="9.6" fill="#ca3e72"/><circle cx="967.6" cy="1105.3" r="9.6" fill="#ca3e72"/><circle cx="1195.3" cy="1000.8" r="9.6" fill="#ca3e72"/><circle cx="1144.0" cy="1029.5" r="9.6" fill="#ca3e72"/><circle cx="1713.3" cy="1016.4" r="9.6" fill="#ca3e72"/><circle cx="913.1" cy="1175.7" r="9.6" fill="#ca3e72"/><circle cx="1093.8" cy="1178.2" r="9.6" fill="#ca3e72"/><circle cx="1295.2" cy="1162.5" r="9.6" fill="#ca3e72"/><circle cx="955.1" cy="705.4" r="9.6" fill="#de4968"/><circle cx="975.1" cy="727.1" r="9.6" fill="#de4968"/><circle cx="950.0" cy="781.4" r="9.6" fill="#de4968"/><circle cx="1674.3" cy="979.3" r="9.6" fill="#de4968"/><circle cx="1706.7" cy="975.5" r="9.6" fill="#de4968"/><circle cx="1079.9" cy="865.8" r="9.6" fill="#de4968"/><circle cx="632.0" cy="672.9" r="9.6" fill="#e44f64"/><circle cx="694.3" cy="616.3" r="9.6" fill="#e44f64"/><circle cx="756.0" cy="599.1" r="9.6" fill="#e44f64"/><circle cx="1528.6" cy="276.9" r="9.6" fill="#ea5661"/><circle cx="369.0" cy="959.2" r="9.6" fill="#ea5661"/><circle cx="1179.6" cy="1144.4" r="9.6" fill="#ea5661"/><circle cx="1637.6" cy="1002.7" r="9.6" fill="#ea5661"/><circle cx="1756.7" cy="1058.7" r="9.6" fill="#ea5661"/><circle cx="1720.0" cy="1096.7" r="9.6" fill="#ea5661"/><circle cx="1612.0" cy="1117.3" r="9.6" fill="#ea5661"/><circle cx="1630.4" cy="1126.3" r="9.6" fill="#ea5661"/><circle cx="1584.0" cy="1149.3" r="9.6" fill="#ea5661"/><circle cx="1575.5" cy="1146.4" r="9.6" fill="#ea5661"/><circle cx="1581.7" cy="1157.0" r="9.6" fill="#ea5661"/><circle cx="1563.0" cy="975.5" r="9.6" fill="#ef5d5e"/><circle cx="1127.2" cy="1222.1" r="9.6" fill="#ef5d5e"/><circle cx="835.4" cy="615.7" r="9.6" fill="#f4675c"/><circle cx="896.3" cy="692.9" r="9.6" fill="#f4675c"/><circle cx="378.2" cy="979.0" r="9.6" fill="#f4675c"/><circle cx="1371.5" cy="925.0" r="9.6" fill="#f4675c"/><circle cx="869.2" cy="1077.8" r="9.6" fill="#f4675c"/><circle cx="1150.8" cy="1024.0" r="9.6" fill="#f4675c"/><circle cx="1661.1" cy="1021.6" r="9.6" fill="#f4675c"/><circle cx="1709.3" cy="1094.0" r="9.6" fill="#f4675c"/><circle cx="787.4" cy="644.9" r="9.6" fill="#f7705c"/><circle cx="1038.6" cy="579.4" r="9.6" fill="#f7705c"/><circle cx="1222.6" cy="1028.5" r="9.6" fill="#f7705c"/><circle cx="1587.7" cy="1129.0" r="9.6" fill="#f7705c"/><circle cx="1759.3" cy="1085.3" r="9.6" fill="#f7705c"/><circle cx="1606.9" cy="1092.0" r="9.6" fill="#f7705c"/><circle cx="1064.9" cy="1215.3" r="9.6" fill="#f7705c"/><circle cx="1679.3" cy="919.9" r="9.6" fill="#fb835f"/><circle cx="979.4" cy="859.6" r="9.6" fill="#fb835f"/><circle cx="1122.7" cy="979.5" r="9.6" fill="#fb835f"/><circle cx="705.9" cy="1044.4" r="9.6" fill="#fb835f"/><circle cx="618.9" cy="644.9" r="9.6" fill="#fc8c63"/><circle cx="1194.7" cy="1196.1" r="9.6" fill="#fd9668"/><circle cx="987.2" cy="1045.4" r="9.6" fill="#fd9b6b"/><circle cx="1009.5" cy="1056.5" r="9.6" fill="#fd9b6b"/><circle cx="736.0" cy="584.3" r="9.6" fill="#fea571"/><circle cx="752.0" cy="703.8" r="9.6" fill="#fea571"/><circle cx="890.0" cy="697.4" r="9.6" fill="#feb47b"/><circle cx="647.4" cy="641.4" r="9.6" fill="#fec185"/><circle cx="720.6" cy="636.3" r="9.6" fill="#fec185"/><circle cx="742.9" cy="574.0" r="9.6" fill="#fec185"/><circle cx="1183.5" cy="1224.0" r="9.6" fill="#fec68a"/><circle cx="1187.2" cy="1231.4" r="9.6" fill="#fec68a"/><circle cx="1162.2" cy="1221.3" r="9.6" fill="#fecf92"/><circle cx="659.4" cy="595.7" r="9.6" fill="#fed89a"/><circle cx="1659.7" cy="1110.3" r="9.6" fill="#fed89a"/><circle cx="1194.0" cy="1227.1" r="9.6" fill="#fed89a"/><circle cx="375.1" cy="970.3" r="9.6" fill="#fde2a3"/><circle cx="883.7" cy="690.6" r="9.6" fill="#fcf0b2"/><circle cx="899.4" cy="592.9" r="9.6" fill="#fcf4b6"/><circle cx="1724.7" cy="1081.6" r="9.6" fill="#fcf4b6"/></g>
<rect x="234.2" y="142.7" width="4.5" height="1162.1" fill="#000"/>
<rect x="234.2" y="1300.4" width="1636.8" height="4.4" fill="#000"/>
<rect x="222" y="247.9" width="14" height="4.4" fill="#000"/>
<text x="208.5" y="268.1" font-size="50" text-anchor="end" font-family="'Liberation Sans', sans-serif">7.5</text>
<rect x="222" y="511.0" width="14" height="4.4" fill="#000"/>
<text x="208.5" y="531.2" font-size="50" text-anchor="end" font-family="'Liberation Sans', sans-serif">5.0</text>
<rect x="222" y="774.1" width="14" height="4.4" fill="#000"/>
<text x="208.5" y="794.3" font-size="50" text-anchor="end" font-family="'Liberation Sans', sans-serif">2.5</text>
<rect x="222" y="1037.2" width="14" height="4.4" fill="#000"/>
<text x="208.5" y="1057.4" font-size="50" text-anchor="end" font-family="'Liberation Sans', sans-serif">0.0</text>
<rect x="222" y="1300.4" width="14" height="4.4" fill="#000"/>
<text x="208.5" y="1320.6" font-size="50" text-anchor="end" font-family="'Liberation Sans', sans-serif">-2.5</text>
<rect x="536.7" y="1302" width="4.4" height="14.8" fill="#000"/>
<text x="538.9" y="1366" font-size="50" text-anchor="middle" font-family="'Liberation Sans', sans-serif">0</text>
<rect x="993.3" y="1302" width="4.4" height="14.8" fill="#000"/>
<text x="995.5" y="1366" font-size="50" text-anchor="middle" font-family="'Liberation Sans', sans-serif">4</text>
<rect x="1450.0" y="1302" width="4.4" height="14.8" fill="#000"/>
<text x="1452.2" y="1366" font-size="50" text-anchor="middle" font-family="'Liberation Sans', sans-serif">8</text>
<text transform="translate(884.60,100.90) scale(1,1.0630)" font-size="66" font-weight="bold" letter-spacing="0.55" font-family="'Liberation Sans', sans-serif">AMMECR</text>
<path d="M1209.00,53.85 L1209.00,100.85 L1200.02,100.85 L1200.02,68.23 L1188.41,68.23 L1188.41,62.26 C1195.08,62.26 1202.58,59.02 1203.22,53.85 Z" fill="#000"/>
<text transform="translate(937.40,1434.80) scale(1,1.0550)" font-size="58.33" font-family="'Liberation Sans', sans-serif">UMAP_</text>
<path d="M1157.00,1393.10 L1157.00,1434.70 L1152.05,1434.70 L1152.05,1404.79 L1143.11,1404.79 L1143.11,1401.30 C1148.05,1401.30 1153.68,1397.68 1154.09,1393.10 Z" fill="#000"/>
<text transform="translate(95.1,839.80) rotate(-90) scale(1,1.0550)" font-size="58.33" font-family="'Liberation Sans', sans-serif">UMAP_2</text>
<rect x="1927.1" y="578.5" width="64" height="319" fill="url(#g)"/>
<rect x="1927.1" y="603.0" width="12.8" height="2" fill="#fff"/>
<rect x="1978.3" y="603.0" width="12.8" height="2" fill="#fff"/>
<text x="2019" y="622.0" font-size="50" font-family="'Liberation Sans', sans-serif">3</text>
<rect x="1927.1" y="700.9" width="12.8" height="2" fill="#fff"/>
<rect x="1978.3" y="700.9" width="12.8" height="2" fill="#fff"/>
<text x="2019" y="719.9" font-size="50" font-family="'Liberation Sans', sans-serif">2</text>
<rect x="1927.1" y="798.8" width="12.8" height="2" fill="#fff"/>
<rect x="1978.3" y="798.8" width="12.8" height="2" fill="#fff"/>
<path d="M2037.20,782.00 L2037.20,818.00 L2032.92,818.00 L2032.92,792.12 L2025.18,792.12 L2025.18,789.09 C2029.45,789.09 2034.33,785.96 2034.68,782.00 Z" fill="#000"/>
<rect x="1927.1" y="896.6" width="12.8" height="2" fill="#fff"/>
<rect x="1978.3" y="896.6" width="12.8" height="2" fill="#fff"/>
<text x="2019" y="915.6" font-size="50" font-family="'Liberation Sans', sans-serif">0</text>
</svg></body></html>
